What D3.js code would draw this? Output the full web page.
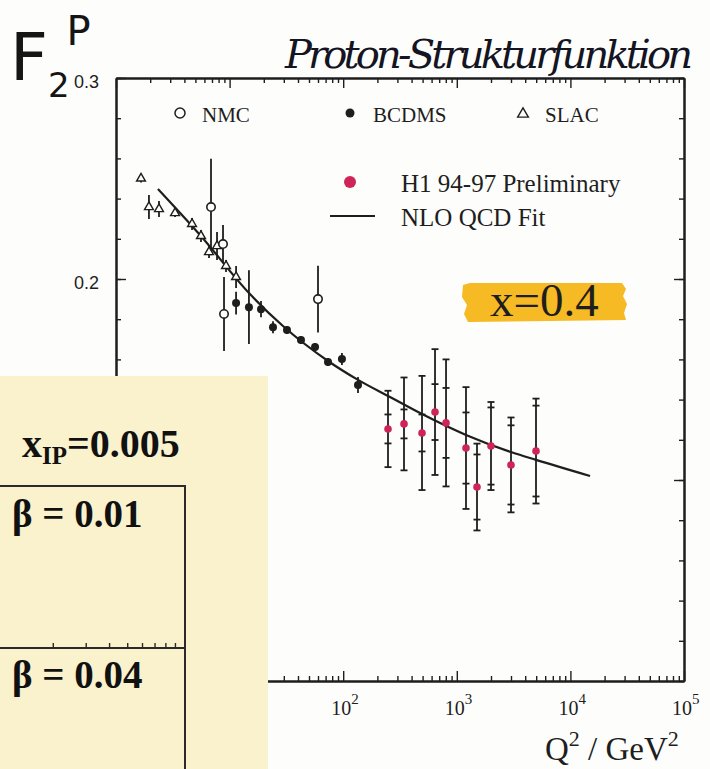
<!DOCTYPE html>
<html>
<head>
<meta charset="utf-8">
<script src="https://cdn.jsdelivr.net/npm/d3@7"></script>
<style>
  body { margin: 0; background: #fdfdfb; }
  svg { display: block; }
  .serif { font-family: "Liberation Serif", "Times New Roman", serif; }
  .sans { font-family: "Liberation Sans", Arial, sans-serif; }
</style>
</head>
<body>
<svg id="chart" width="710" height="769"></svg>
<script>
// F2 proton at x=0.4
var slacQ2 = [1.66, 1.95, 2.39, 3.31, 4.67, 5.6, 6.59, 7.75, 9.3, 11.4];
var slacF2 = [0.250, 0.2358, 0.2348, 0.2328, 0.2274, 0.2214, 0.2134, 0.2164, 0.2065, 0.201];
var slacErr = [0.002, 0.006, 0.004, 0.002, 0.003, 0.003, 0.003, 0.007, 0.003, 0.0055];

var nmcQ2 = [6.86, 8.75, 8.93, 60];
var nmcF2 = [0.2358, 0.2174, 0.1826, 0.190];
var nmcErr = [0.024, 0.0095, 0.0184, 0.0166];

var bcdmsQ2 = [11.4, 14.8, 18.9, 24.1, 32.0, 42.5, 56.5, 73.5, 97.5, 135];
var bcdmsF2 = [0.188, 0.186, 0.185, 0.176, 0.1746, 0.1697, 0.1662, 0.1587, 0.1602, 0.1473];
var bcdmsErr = [0.0057, 0.0184, 0.004, 0.003, 0.002, 0.002, 0.002, 0.002, 0.003, 0.004];

var h1Q2 = [248, 343, 494, 643, 804, 1205, 1506, 2000, 3000, 4980];
var h1F2 = [0.1254, 0.1279, 0.1234, 0.1338, 0.1284, 0.1159, 0.0965, 0.1169, 0.1075, 0.1144];
var h1Stat = [0.0072, 0.0072, 0.0092, 0.0139, 0.0174, 0.0177, 0.0162, 0.0192, 0.0197, 0.0226];
var h1Tot = [0.019, 0.0231, 0.0284, 0.0313, 0.0316, 0.0303, 0.0216, 0.0219, 0.0236, 0.0261];

var fitQ2 = [2.34, 5.49, 15.1, 29.5, 73.5, 135, 258, 494, 1205, 3000, 4980, 14890];
var fitF2 = [0.2448, 0.2219, 0.1925, 0.1766, 0.1592, 0.1498, 0.1413, 0.1328, 0.1224, 0.1139, 0.1100, 0.1020];

var xDecades = [1e2, 1e3, 1e4, 1e5];
var xDecadeExp = ['2', '3', '4', '5'];
var yLabels = [0.1, 0.2, 0.3];

var ink = '#1e1e1e';
var h1Red = '#cf2458';

var svg = d3.select('#chart');

var x = d3.scaleLog().domain([1, 1e5]).range([116, 684]);
var y = d3.scaleLinear().domain([0, 0.3]).range([681, 78]);

var zip = function(a, b, c, d) {
  return a.map(function(v, i) { return { q2: v, f2: b[i], e: c ? c[i] : 0, t: d ? d[i] : 0 }; });
};

/**
 * Axes (ticks point inward on all four sides)
 */
var minorLog = [];
for (var p = 0; p < 5; p++) {
  for (var k = 2; k <= 9; k++) minorLog.push(k * Math.pow(10, p));
}
var majorLog = [1, 10, 100, 1000, 10000, 100000];
var yMinor = d3.range(0, 0.301, 0.02);

var axes = svg.append('g');

var addAxis = function(axis, tx, ty) {
  var g = axes.append('g')
    .attr('transform', 'translate(' + tx + ',' + ty + ')')
    .call(axis);
  g.selectAll('.domain').attr('stroke', ink).attr('stroke-width', 2);
  g.selectAll('line').attr('stroke', ink).attr('stroke-width', 1.4);
  return g;
};

addAxis(d3.axisBottom(x).tickValues(minorLog).tickSize(-5).tickSizeOuter(0).tickFormat(''), 0, 681);
addAxis(d3.axisBottom(x).tickValues(majorLog).tickSize(-10).tickSizeOuter(0).tickFormat(''), 0, 681);
addAxis(d3.axisTop(x).tickValues(minorLog).tickSize(-5).tickSizeOuter(0).tickFormat(''), 0, 78);
addAxis(d3.axisTop(x).tickValues(majorLog).tickSize(-10).tickSizeOuter(0).tickFormat(''), 0, 78);
addAxis(d3.axisRight(y).tickValues(yMinor).tickSize(-5).tickSizeOuter(0).tickFormat(''), 684, 0);
addAxis(d3.axisRight(y).tickValues(yLabels).tickSize(-10).tickSizeOuter(0).tickFormat(''), 684, 0);
addAxis(d3.axisLeft(y).tickValues(yMinor).tickSize(-5).tickSizeOuter(0).tickFormat(''), 116, 0);
var yAxisLab = addAxis(d3.axisLeft(y).tickValues(yLabels).tickSize(-10).tickSizeOuter(0).tickPadding(17).tickFormat(d3.format('.1f')), 116, 0);
yAxisLab.attr('font-size', null).attr('font-family', null);
yAxisLab.selectAll('text')
  .attr('class', 'sans')
  .style('font-size', '18px')
  .attr('fill', ink)
  .attr('dy', '0.5em');

// decade labels 10^n
var xLab = svg.append('g').attr('class', 'serif').attr('fill', ink);
xDecades.forEach(function(d, i) {
  var t = xLab.append('text')
    .attr('x', x(d) - 12)
    .attr('y', 715)
    .style('font-size', '20px');
  t.append('tspan').text('10');
  t.append('tspan').attr('dy', -11).style('font-size', '15px').text(xDecadeExp[i]);
});

var qTitle = svg.append('text')
  .attr('class', 'serif')
  .attr('x', 545)
  .attr('y', 760)
  .attr('fill', ink)
  .style('font-size', '33px');
qTitle.append('tspan').text('Q');
qTitle.append('tspan').attr('dy', -14).style('font-size', '22px').text('2');
qTitle.append('tspan').attr('dy', 14).text(' / GeV');
qTitle.append('tspan').attr('dy', -14).style('font-size', '22px').text('2');

/**
 * Fit curve
 */
var fitLine = d3.line()
  .x(function(d) { return x(d.q2); })
  .y(function(d) { return y(d.f2); })
  .curve(d3.curveMonotoneX);

svg.append('path')
  .datum(zip(fitQ2, fitF2))
  .attr('d', fitLine)
  .attr('fill', 'none')
  .attr('stroke', ink)
  .attr('stroke-width', 2.2);

/**
 * Error bars + markers
 */
var errBars = function(data, caps) {
  var g = svg.append('g').attr('stroke', ink).attr('stroke-width', 1.8);
  g.selectAll('line.bar')
    .data(data)
    .enter().append('line')
    .attr('x1', function(d) { return x(d.q2); })
    .attr('x2', function(d) { return x(d.q2); })
    .attr('y1', function(d) { return y(d.f2 + (d.t || d.e)); })
    .attr('y2', function(d) { return y(d.f2 - (d.t || d.e)); });
  if (caps) {
    var capEnds = [];
    data.forEach(function(d) {
      [d.f2 + d.e, d.f2 - d.e, d.f2 + d.t, d.f2 - d.t].forEach(function(v) {
        capEnds.push({ q2: d.q2, v: v });
      });
    });
    g.selectAll('line.cap')
      .data(capEnds)
      .enter().append('line')
      .attr('x1', function(d) { return x(d.q2) - 3.5; })
      .attr('x2', function(d) { return x(d.q2) + 3.5; })
      .attr('y1', function(d) { return y(d.v); })
      .attr('y2', function(d) { return y(d.v); });
  }
};

var slac = zip(slacQ2, slacF2, slacErr);
var nmc = zip(nmcQ2, nmcF2, nmcErr);
var bcdms = zip(bcdmsQ2, bcdmsF2, bcdmsErr);
var h1 = zip(h1Q2, h1F2, h1Stat, h1Tot);

errBars(slac, false);
errBars(nmc, false);
errBars(bcdms, false);
errBars(h1, true);

var tri = d3.symbol().type(d3.symbolTriangle).size(34);
svg.append('g').selectAll('path')
  .data(slac)
  .enter().append('path')
  .attr('d', tri)
  .attr('transform', function(d) { return 'translate(' + x(d.q2) + ',' + y(d.f2) + ')'; })
  .attr('fill', '#fdfdfb')
  .attr('stroke', ink)
  .attr('stroke-width', 1.4);

svg.append('g').selectAll('circle')
  .data(nmc)
  .enter().append('circle')
  .attr('cx', function(d) { return x(d.q2); })
  .attr('cy', function(d) { return y(d.f2); })
  .attr('r', 4.2)
  .attr('fill', '#fdfdfb')
  .attr('stroke', ink)
  .attr('stroke-width', 1.6);

svg.append('g').selectAll('circle')
  .data(bcdms)
  .enter().append('circle')
  .attr('cx', function(d) { return x(d.q2); })
  .attr('cy', function(d) { return y(d.f2); })
  .attr('r', 4)
  .attr('fill', ink);

svg.append('g').selectAll('circle')
  .data(h1)
  .enter().append('circle')
  .attr('cx', function(d) { return x(d.q2); })
  .attr('cy', function(d) { return y(d.f2); })
  .attr('r', 3.8)
  .attr('fill', h1Red);

/**
 * Legend
 */
var legend = svg.append('g').attr('class', 'serif').attr('fill', ink);
legend.append('circle').attr('cx', 180).attr('cy', 113).attr('r', 5).attr('fill', 'none').attr('stroke', ink).attr('stroke-width', 1.5);
legend.append('text').attr('x', 202).attr('y', 122).style('font-size', '21px').text('NMC');
legend.append('circle').attr('cx', 350).attr('cy', 113).attr('r', 4.5).attr('fill', ink);
legend.append('text').attr('x', 373).attr('y', 122).style('font-size', '21px').text('BCDMS');
legend.append('path').attr('d', d3.symbol().type(d3.symbolTriangle).size(50)).attr('transform', 'translate(523,114)').attr('fill', 'none').attr('stroke', ink).attr('stroke-width', 1.4);
legend.append('text').attr('x', 545).attr('y', 122).style('font-size', '21px').text('SLAC');
legend.append('circle').attr('cx', 350).attr('cy', 182).attr('r', 6).attr('fill', h1Red);
legend.append('text').attr('x', 401).attr('y', 192).style('font-size', '25px').text('H1 94-97 Preliminary');
legend.append('line').attr('x1', 330).attr('x2', 375).attr('y1', 216).attr('y2', 216).attr('stroke', ink).attr('stroke-width', 2);
legend.append('text').attr('x', 401).attr('y', 226).style('font-size', '25px').text('NLO QCD Fit');

// highlighted x label
svg.append('path')
  .attr('d', 'M463,285 L470,283 L622,283 L626,289 L623,296 L627,304 L624,313 L626,320 L468,322 L464,314 L467,305 L462,297 Z')
  .attr('fill', '#f5ba24');
svg.append('text')
  .attr('class', 'serif')
  .attr('x', 490)
  .attr('y', 316)
  .attr('fill', ink)
  .style('font-size', '47px')
  .text('x=0.4');

/**
 * Title: F2^P as one text, plus the handwritten headline
 */
var fTitle = svg.append('text')
  .attr('x', 10)
  .attr('y', 80)
  .attr('fill', '#151515')
  .style('font-family', '"DejaVu Sans", sans-serif')
  .style('font-size', '66px');
fTitle.append('tspan').text('F');
fTitle.append('tspan').attr('dy', 17).style('font-size', '34px').text('2');
fTitle.append('tspan').attr('dx', -3).attr('dy', -52).style('font-size', '40px').text('P');

svg.append('text')
  .attr('x', 285)
  .attr('y', 68)
  .attr('textLength', 408)
  .attr('fill', '#141422')
  .style('font-family', '"DejaVu Serif", serif')
  .style('font-style', 'italic')
  .style('font-size', '40px')
  .text('Proton-Strukturfunktion');

/**
 * Overlapping yellow panel from the other slide
 */
var panelTicks = [2, 3, 4, 5, 6, 7, 8, 9];
var px = d3.scaleLog().domain([1, 10]).range([-3, 184]);

var panel = svg.append('g');
panel.append('rect')
  .attr('x', 0).attr('y', 376).attr('width', 268).attr('height', 393)
  .attr('fill', '#faf2cc');
panel.append('path')
  .attr('d', 'M0,486 H185 V769 M0,648 H185')
  .attr('fill', 'none')
  .attr('stroke', '#2a2a2a')
  .attr('stroke-width', 2);
panel.append('g').selectAll('line')
  .data(panelTicks)
  .enter().append('line')
  .attr('x1', function(d) { return px(d); })
  .attr('x2', function(d) { return px(d); })
  .attr('y1', 648)
  .attr('y2', 643)
  .attr('stroke', '#2a2a2a')
  .attr('stroke-width', 1.4);

var ptxt = panel.append('g').attr('class', 'serif').attr('fill', '#111').style('font-weight', 'bold');
var xip = ptxt.append('text').attr('x', 22).attr('y', 457).style('font-size', '40px');
xip.append('tspan').text('x');
xip.append('tspan').attr('dy', 7).style('font-size', '25px').text('IP');
xip.append('tspan').attr('dy', -7).text('=0.005');
ptxt.append('text').attr('x', 12).attr('y', 527).style('font-size', '39px').text('β = 0.01');
ptxt.append('text').attr('x', 12).attr('y', 688).style('font-size', '39px').text('β = 0.04');
</script>
</body>
</html>
